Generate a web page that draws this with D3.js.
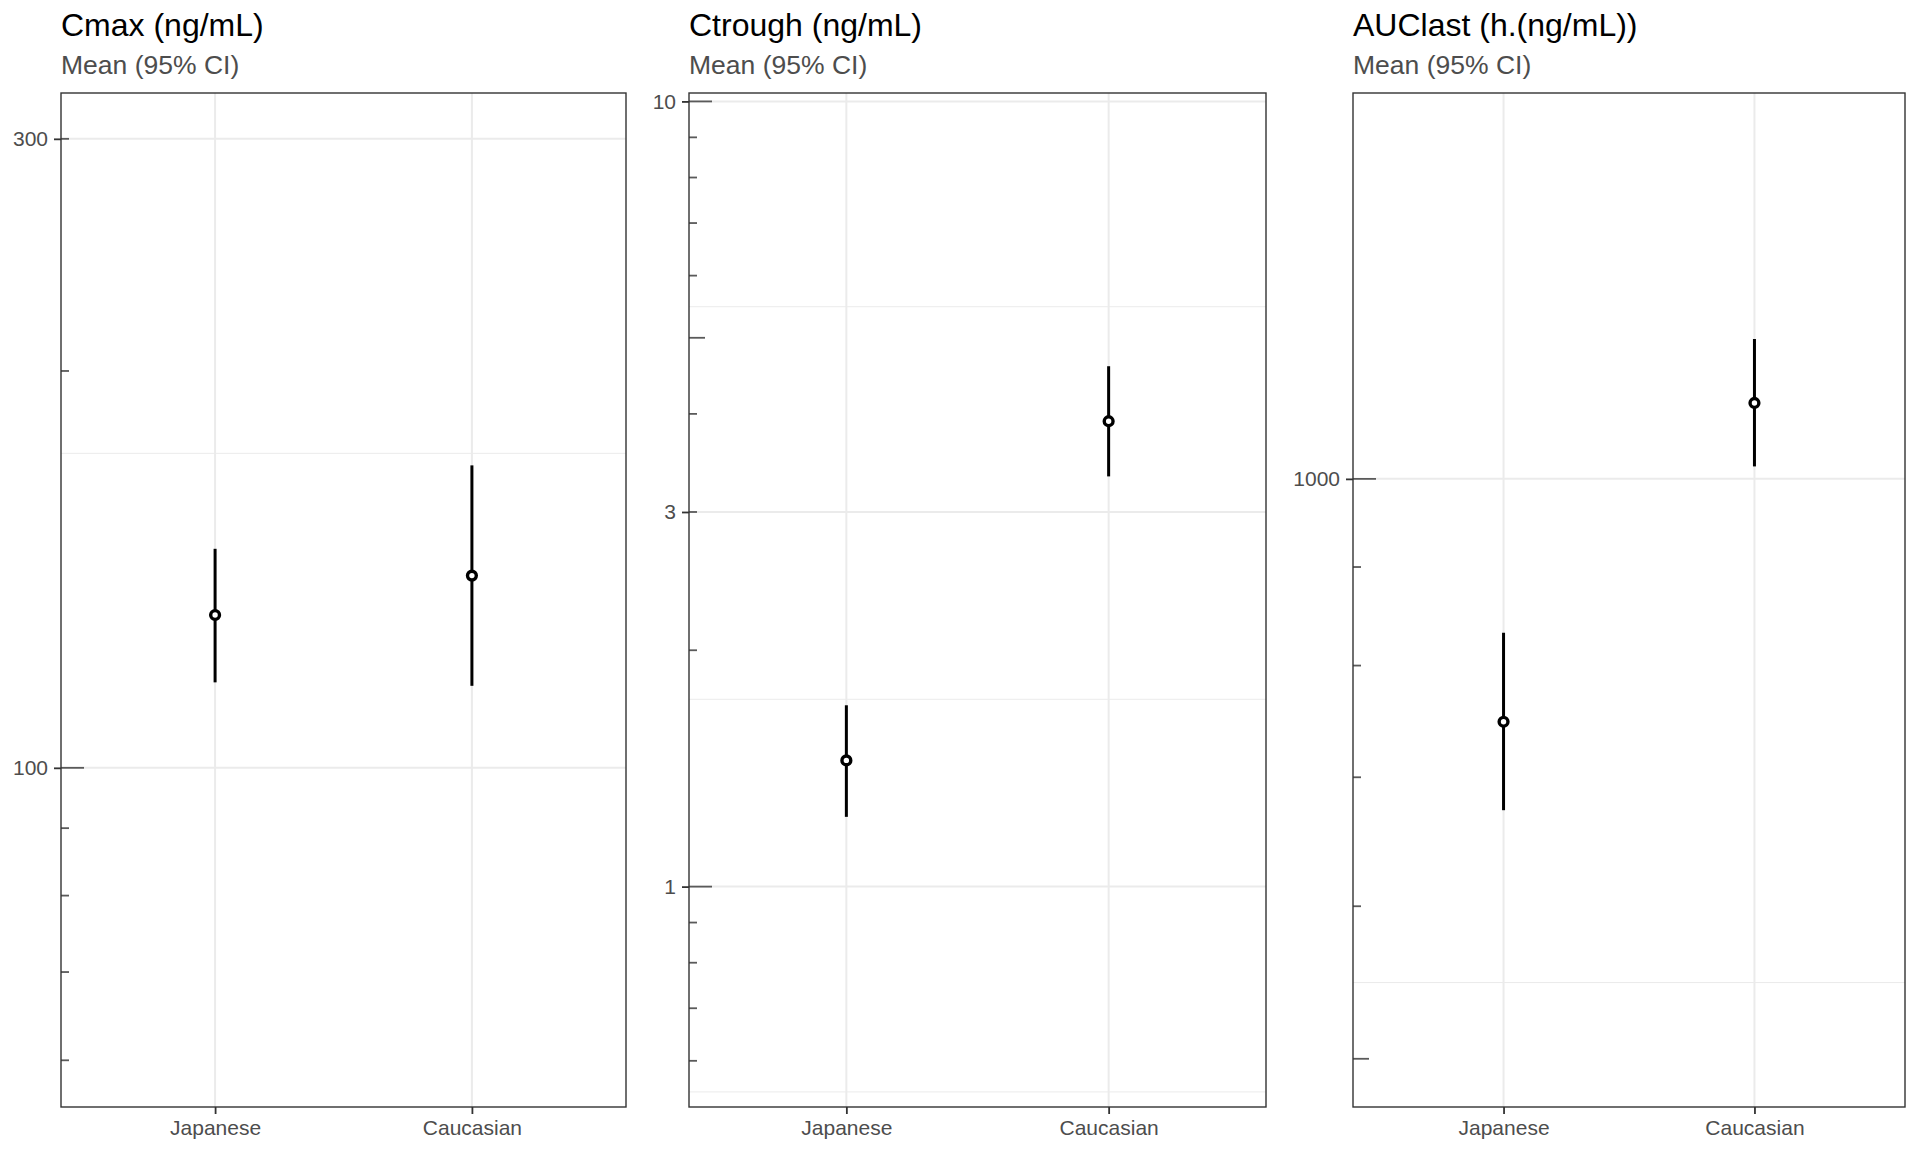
<!DOCTYPE html>
<html>
<head>
<meta charset="utf-8">
<script src="https://cdn.jsdelivr.net/npm/d3@7"></script>
<style>
  html, body { margin: 0; padding: 0; background: #fff; }
  svg { display: block; font-family: "Liberation Sans", Arial, sans-serif; }
</style>
</head>
<body>
<div class="chart"></div>
<script>
// categories on the x axis
const categories = ["Japanese", "Caucasian"];

// Cmax (ng/mL)
const cmaxMean = [130.6, 139.9];
const cmaxLower = [116.1, 115.4];
const cmaxUpper = [146.6, 169.6];

// Ctrough (ng/mL)
const ctroughMean = [1.448, 3.915];
const ctroughLower = [1.227, 3.33];
const ctroughUpper = [1.702, 4.60];

// AUClast (h.(ng/mL))
const auclastMean = [748, 1095];
const auclastLower = [673, 1015];
const auclastUpper = [832, 1182];

// y tick labels and minor grid breaks for each panel
const cmaxBreaks = [100, 300];
const cmaxMinor = [173.2];
const ctroughBreaks = [1, 3, 10];
const ctroughMinor = [0.5477, 1.732, 5.477];
const auclastBreaks = [1000];
const auclastMinor = [547.7];

const width = 1920;
const height = 1152;
const panelTop = 93;
const panelBottom = 1107;

const svg = d3.select(".chart")
  .append("svg")
  .attr("width", width)
  .attr("height", height);

const panels = [
  { title: "Cmax (ng/mL)", left: 61, right: 626, domain: [55.3, 325],
    mean: cmaxMean, lower: cmaxLower, upper: cmaxUpper,
    breaks: cmaxBreaks, minor: cmaxMinor },
  { title: "Ctrough (ng/mL)", left: 689, right: 1266, domain: [0.524, 10.25],
    mean: ctroughMean, lower: ctroughLower, upper: ctroughUpper,
    breaks: ctroughBreaks, minor: ctroughMinor },
  { title: "AUClast (h.(ng/mL))", left: 1353, right: 1905, domain: [472, 1586],
    mean: auclastMean, lower: auclastLower, upper: auclastUpper,
    breaks: auclastBreaks, minor: auclastMinor }
];

panels.forEach(function(p) {
  const g = svg.append("g");

  const x = d3.scalePoint()
    .domain(categories)
    .range([p.left, p.right])
    .padding(0.6);

  const y = d3.scaleLog()
    .domain(p.domain)
    .range([panelBottom, panelTop]);

  // titles
  g.append("text")
    .attr("x", p.left)
    .attr("y", 36)
    .attr("font-size", 32)
    .attr("fill", "#000")
    .text(p.title);

  g.append("text")
    .attr("x", p.left)
    .attr("y", 74)
    .attr("font-size", 26.5)
    .attr("fill", "#4d4d4d")
    .text("Mean (95% CI)");

  // minor grid
  g.selectAll(".minor")
    .data(p.minor)
    .enter()
    .append("line")
    .attr("x1", p.left)
    .attr("x2", p.right)
    .attr("y1", d => y(d))
    .attr("y2", d => y(d))
    .attr("stroke", "#ebebeb")
    .attr("stroke-width", 1);

  // major grid
  g.selectAll(".major")
    .data(p.breaks)
    .enter()
    .append("line")
    .attr("x1", p.left)
    .attr("x2", p.right)
    .attr("y1", d => y(d))
    .attr("y2", d => y(d))
    .attr("stroke", "#ebebeb")
    .attr("stroke-width", 2);

  g.selectAll(".vgrid")
    .data(categories)
    .enter()
    .append("line")
    .attr("x1", d => x(d))
    .attr("x2", d => x(d))
    .attr("y1", panelTop)
    .attr("y2", panelBottom)
    .attr("stroke", "#ebebeb")
    .attr("stroke-width", 2);

  // log ticks inside the panel
  const logTicks = y.ticks().filter(d => d >= p.domain[0] && d <= p.domain[1]);
  g.selectAll(".logtick")
    .data(logTicks)
    .enter()
    .append("line")
    .attr("x1", p.left)
    .attr("x2", d => {
      const k = Math.round(d / Math.pow(10, Math.floor(Math.log10(d) + 1e-9)));
      const len = k === 1 ? 23 : (k === 5 ? 16 : 8);
      return p.left + len;
    })
    .attr("y1", d => y(d))
    .attr("y2", d => y(d))
    .attr("stroke", "#5a5a5a")
    .attr("stroke-width", 1.8);

  // y axis
  const yAxis = d3.axisLeft(y)
    .tickValues(p.breaks)
    .tickFormat(d3.format("d"))
    .tickSize(7)
    .tickPadding(6);

  const ya = g.append("g")
    .attr("transform", `translate(${p.left},0)`)
    .call(yAxis);
  ya.select(".domain").remove();
  ya.selectAll("line").attr("stroke", "#333").attr("stroke-width", 1.8);
  ya.selectAll("text")
    .attr("font-size", 21)
    .attr("fill", "#4d4d4d")
    .attr("font-family", "Liberation Sans, Arial, sans-serif");

  // x axis
  const xAxis = d3.axisBottom(x)
    .tickSize(7)
    .tickPadding(6);

  const xa = g.append("g")
    .attr("transform", `translate(0,${panelBottom})`)
    .call(xAxis);
  xa.select(".domain").remove();
  xa.selectAll("line").attr("stroke", "#333").attr("stroke-width", 1.8);
  xa.selectAll("text")
    .attr("font-size", 21)
    .attr("fill", "#4d4d4d")
    .attr("font-family", "Liberation Sans, Arial, sans-serif");

  // panel border
  g.append("rect")
    .attr("x", p.left)
    .attr("y", panelTop)
    .attr("width", p.right - p.left)
    .attr("height", panelBottom - panelTop)
    .attr("fill", "none")
    .attr("stroke", "#333")
    .attr("stroke-width", 1.4);

  // confidence intervals
  g.selectAll(".ci")
    .data(categories)
    .enter()
    .append("line")
    .attr("x1", d => x(d))
    .attr("x2", d => x(d))
    .attr("y1", (d, i) => y(p.lower[i]))
    .attr("y2", (d, i) => y(p.upper[i]))
    .attr("stroke", "#000")
    .attr("stroke-width", 3);

  // means
  g.selectAll(".pt")
    .data(categories)
    .enter()
    .append("circle")
    .attr("cx", d => x(d))
    .attr("cy", (d, i) => y(p.mean[i]))
    .attr("r", 4.4)
    .attr("fill", "#fff")
    .attr("stroke", "#000")
    .attr("stroke-width", 3.4);
});
</script>
</body>
</html>
